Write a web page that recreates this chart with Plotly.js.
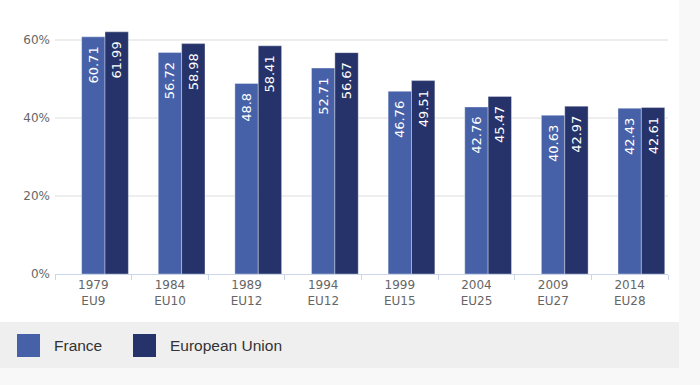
<!DOCTYPE html>
<html>
<head>
<meta charset="utf-8">
<script src="https://cdn.plot.ly/plotly-3.0.1.min.js"></script>
<style>
  html, body { margin: 0; padding: 0; background: #f8f8f8; }
  #chart { width: 679px; height: 368px; }
</style>
</head>
<body>
<div id="chart"></div>
<script>
const years = ["1979", "1984", "1989", "1994", "1999", "2004", "2009", "2014"];
const euSizes = ["EU9", "EU10", "EU12", "EU12", "EU15", "EU25", "EU27", "EU28"];
const franceValues = [60.71, 56.72, 48.8, 52.71, 46.76, 42.76, 40.63, 42.43];
const euValues = [61.99, 58.98, 58.41, 56.67, 49.51, 45.47, 42.97, 42.61];
const seriesNames = ["France", "European Union"];
const seriesColors = ["#4661a8", "#25336a"];
const yTicks = [0, 20, 40, 60];

const categories = years.map((y, i) => y + "<br>" + euSizes[i]);

function barTrace(name, values, color, offset) {
  return {
    type: "bar",
    name: name,
    x: categories,
    y: values,
    width: 0.305,
    offset: offset,
    marker: { color: color, line: { color: "rgba(255,255,255,0.35)", width: 1 } },
    text: values.map(v => String(v) + "\u2002"),
    textposition: "inside",
    insidetextanchor: "end",
    textangle: -90,
    constraintext: "none",
    textfont: { family: "DejaVu Sans", size: 13, color: "#ffffff" },
    cliponaxis: false,
    showlegend: false,
    hoverinfo: "skip"
  };
}

const data = [
  barTrace(seriesNames[0], franceValues, seriesColors[0], -0.1525),
  barTrace(seriesNames[1], euValues, seriesColors[1], 0.1525)
];

// legend geometry (paper coords): plot area 55..668 x, 24..274 y
const W = 613, H = 250, L = 55, T = 24;
const px = x => (x - L) / W;
const py = y => (T + H - y) / H;

const shapes = [
  { type: "rect", xref: "paper", yref: "paper", x0: px(0), x1: px(679), y0: py(368), y1: py(322),
    fillcolor: "#efefef", line: { width: 0 }, layer: "below" },
  { type: "rect", xref: "paper", yref: "paper", x0: px(17), x1: px(40), y0: py(357), y1: py(334),
    fillcolor: seriesColors[0], line: { width: 0 } },
  { type: "rect", xref: "paper", yref: "paper", x0: px(133), x1: px(156), y0: py(357), y1: py(334),
    fillcolor: seriesColors[1], line: { width: 0 } }
];

const annotations = [
  { xref: "paper", yref: "paper", x: px(52), y: py(345), xanchor: "left", yanchor: "middle",
    text: seriesNames[0], showarrow: false, font: { family: "Liberation Sans", size: 15.5, color: "#333333" } },
  { xref: "paper", yref: "paper", x: px(168), y: py(345), xanchor: "left", yanchor: "middle",
    text: seriesNames[1], showarrow: false, font: { family: "Liberation Sans", size: 15.5, color: "#333333" } }
];

const layout = {
  width: 679,
  height: 368,
  margin: { l: 55, r: 11, t: 24, b: 94 },
  paper_bgcolor: "#ffffff",
  plot_bgcolor: "#ffffff",
  barmode: "overlay",
  showlegend: false,
  font: { family: "DejaVu Sans", size: 12, color: "#666666" },
  xaxis: {
    type: "category",
    range: [-0.5, 7.5],
    tickson: "boundaries",
    ticks: "outside",
    ticklen: 5,
    tickcolor: "#ccd6eb",
    tickwidth: 1,
    showline: true,
    linecolor: "#ccd6eb",
    linewidth: 1,
    showgrid: false,
    tickfont: { family: "DejaVu Sans", size: 12, color: "#666666" },
    fixedrange: true
  },
  yaxis: {
    range: [0, 64],
    tickvals: yTicks,
    ticktext: yTicks.map(v => v + "%"),
    showgrid: true,
    gridcolor: "#eeeeee",
    gridwidth: 2,
    zeroline: false,
    showline: false,
    ticks: "",
    ticklabelstandoff: 4,
    tickfont: { family: "DejaVu Sans", size: 12, color: "#666666" },
    fixedrange: true
  },
  shapes: shapes,
  annotations: annotations
};

Plotly.newPlot("chart", data, layout, { displayModeBar: false, staticPlot: true });
</script>
</body>
</html>
